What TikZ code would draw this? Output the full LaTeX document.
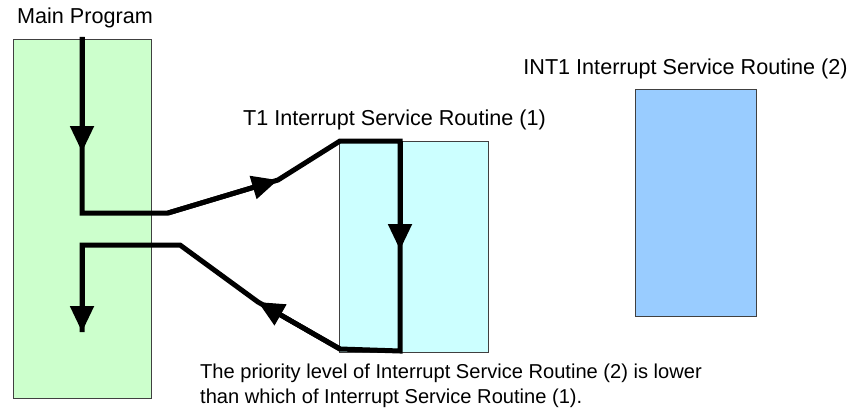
\documentclass[tikz,border=0pt]{standalone}
\usepackage{fontspec}
\setmainfont{Liberation Sans}
\usetikzlibrary{arrows.meta, positioning}

\begin{document}
\begin{tikzpicture}[x=1pt, y=-1pt]
    \tikzset{
        routine/.style={draw=black!75, line width=0.8pt, inner sep=0pt},
        lbl/.style={font=\fontsize{21.6}{25}\selectfont, inner sep=0pt},
        notelbl/.style={font=\fontsize{20.1}{25}\selectfont, inner sep=0pt},
        flow/.style={line width=5pt, line join=miter},
        tip/.style={line width=5pt, -{Triangle[length=26pt, width=23pt]}}
    }
    \useasboundingbox (0,0) rectangle (854,412);

    % Routine boxes
    \node[routine, fill={rgb,255:red,204;green,255;blue,204}, minimum width=138, minimum height=359] (main) at (82,218.5) {};
    \node[routine, fill={rgb,255:red,204;green,255;blue,255}, minimum width=149, minimum height=211] (t1) at (413.5,246.5) {};
    \node[routine, fill={rgb,255:red,153;green,204;blue,255}, minimum width=121, minimum height=227] (int1) at (695.5,202.5) {};

    % Labels
    \node[lbl] (mainlbl) at (85,18) {Main Program};
    \node[lbl] (t1lbl) at (394.5,120) {T1 Interrupt Service Routine (1)};
    \node[lbl] (int1lbl) at (685.5,69) {INT1 Interrupt Service Routine (2)};
    \node[notelbl, anchor=north west, align=left] (note) at (200,364)
        {The priority level of Interrupt Service Routine (2) is lower\\than which of Interrupt Service Routine (1).};

    % Execution path
    \coordinate (m0) at (82,37);
    \coordinate (a1) at (82,152);
    \coordinate (m1) at (82,213);
    \coordinate (m2) at (168,213);
    \coordinate (a2) at (278,180);
    \coordinate (t0) at (340,141);
    \coordinate (t1a) at (400,141);
    \coordinate (a3) at (400,250);
    \coordinate (t2) at (400,351);
    \coordinate (t3) at (340,349);
    \coordinate (a4) at (258,302);
    \coordinate (m3) at (180,245);
    \coordinate (m4) at (82,245);
    \coordinate (a5) at (82,332);

    \draw[flow] (m0) -- (m1) -- (m2) -- (a2) -- (t0) -- (t1a) -- (t2) -- (t3) -- (a4) -- (m3) -- (m4) -- (a5);

    % Arrow heads
    \draw[tip] (m0) -- (a1);
    \draw[tip] (m2) -- (a2);
    \draw[tip] (t1a) -- (a3);
    \draw[tip] (t3) -- (a4);
    \draw[tip] (m4) -- (a5);
\end{tikzpicture}
\end{document}
